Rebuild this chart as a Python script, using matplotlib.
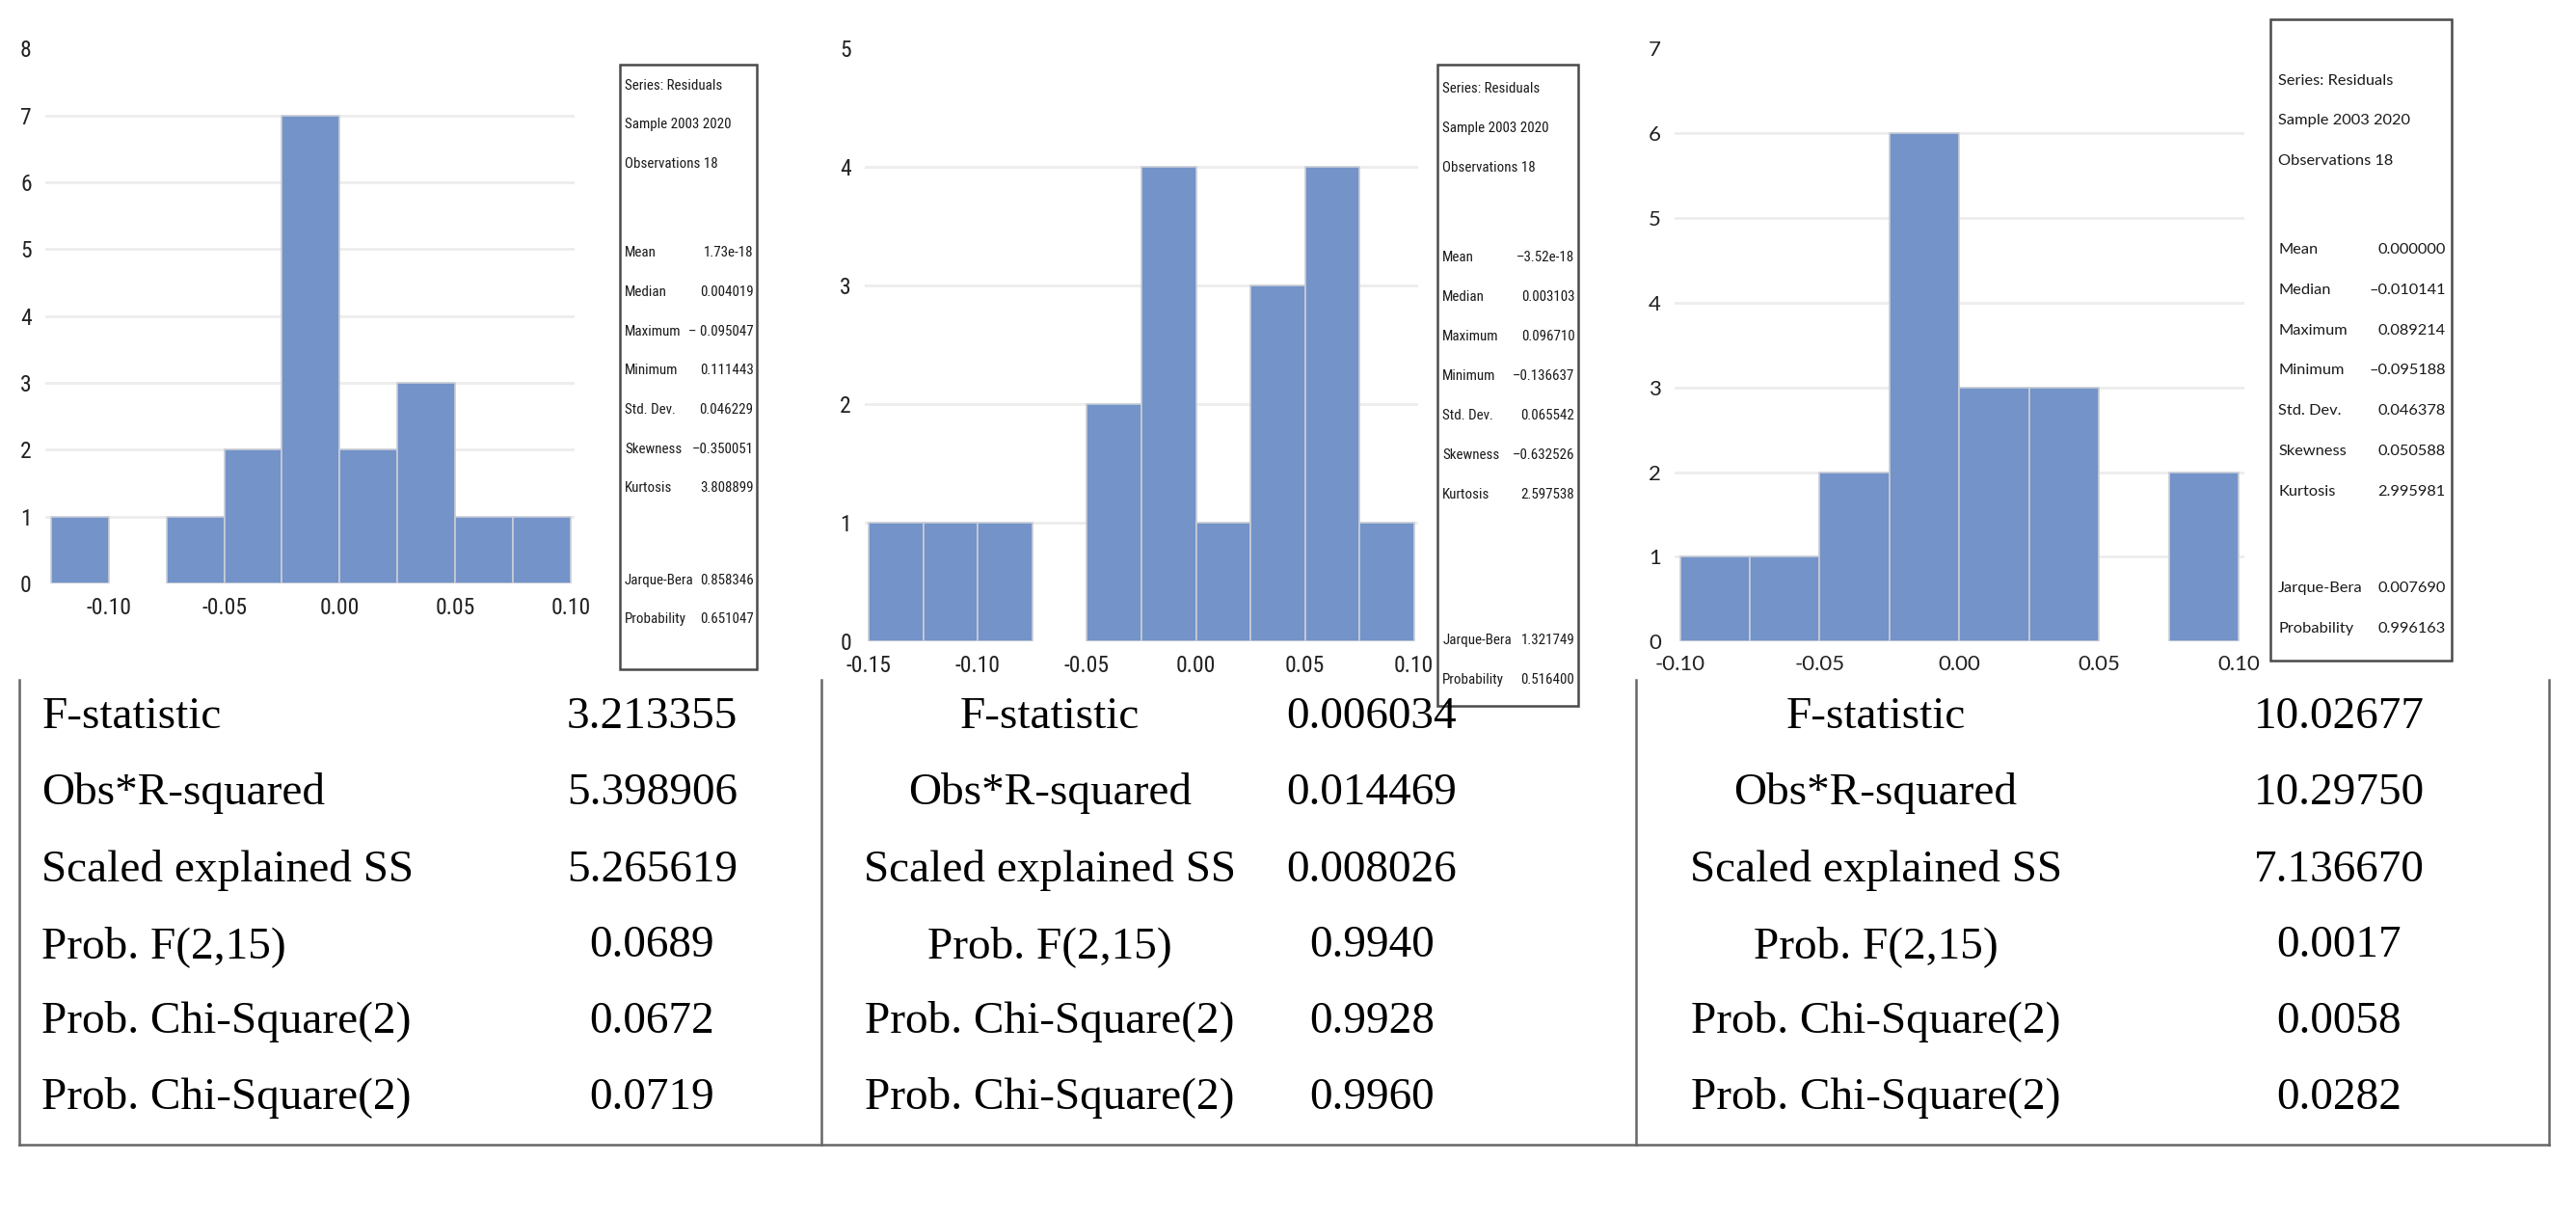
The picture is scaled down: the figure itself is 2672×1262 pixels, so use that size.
import os
import matplotlib
matplotlib.use("Agg")
import matplotlib.pyplot as plt
import numpy as np
from matplotlib.patches import Rectangle
from matplotlib.lines import Line2D
from matplotlib import font_manager
from matplotlib.font_manager import FontProperties

# ---------------- data ----------------
p1_edges = [-0.125, -0.10, -0.075, -0.05, -0.025, 0.0, 0.025, 0.05, 0.075, 0.10]
p1_counts = [1, 0, 1, 2, 7, 2, 3, 1, 1]
p1_xticks = [-0.10, -0.05, 0.00, 0.05, 0.10]

p2_edges = [-0.15, -0.125, -0.10, -0.075, -0.05, -0.025, 0.0, 0.025, 0.05, 0.075, 0.10]
p2_counts = [1, 1, 1, 0, 2, 4, 1, 3, 4, 1]
p2_xticks = [-0.15, -0.10, -0.05, 0.00, 0.05, 0.10]

p3_edges = [-0.10, -0.075, -0.05, -0.025, 0.0, 0.025, 0.05, 0.075, 0.10]
p3_counts = [1, 1, 2, 6, 3, 3, 0, 2]
p3_xticks = [-0.10, -0.05, 0.00, 0.05, 0.10]

box_header = ["Series: Residuals", "Sample 2003 2020", "Observations 18"]
stat_labels = ["Mean", "Median", "Maximum", "Minimum", "Std. Dev.", "Skewness", "Kurtosis"]
test_labels = ["Jarque-Bera", "Probability"]
box1_stats = ["1.73e-18", "0.004019", "\u2013 0.095047", "0.111443", "0.046229", "\u20130.350051", "3.808899"]
box1_tests = ["0.858346", "0.651047"]
box2_stats = ["\u20133.52e-18", "0.003103", "0.096710", "\u20130.136637", "0.065542", "\u20130.632526", "2.597538"]
box2_tests = ["1.321749", "0.516400"]
box3_stats = ["0.000000", "\u20130.010141", "0.089214", "\u20130.095188", "0.046378", "0.050588", "2.995981"]
box3_tests = ["0.007690", "0.996163"]

table_labels = ["F-statistic", "Obs*R-squared", "Scaled explained SS",
                "Prob. F(2,15)", "Prob. Chi-Square(2)", "Prob. Chi-Square(2)"]
table_vals1 = ["3.213355", "5.398906", "5.265619", "0.0689", "0.0672", "0.0719"]
table_vals2 = ["0.006034", "0.014469", "0.008026", "0.9940", "0.9928", "0.9960"]
table_vals3 = ["10.02677", "10.29750", "7.136670", "0.0017", "0.0058", "0.0282"]

# ---------------- fonts ----------------
plt.rcParams["axes.unicode_minus"] = False
narrow_path = None
for pat in ["liberationsansnarrow-regular", "robotocondensed-regular", "notosans-condensed.",
            "opensans-condensed", "dejavusanscondensed.ttf"]:
    for f in font_manager.fontManager.ttflist:
        if pat in os.path.basename(f.fname).lower():
            narrow_path = f.fname
            break
    if narrow_path:
        break
if narrow_path:
    NARROW_FP = FontProperties(fname=narrow_path)
    BOX_FS = 10.8
    TICK_FS = 17
else:
    NARROW_FP = FontProperties(family="Liberation Sans")
    BOX_FS = 9.2
    TICK_FS = 14.5
installed = {f.name for f in font_manager.fontManager.ttflist}
CAL = "Lato" if "Lato" in installed else "DejaVu Sans"
CAL_FP = FontProperties(family=CAL)
SERIF = "Liberation Serif"

BAR = "#7393C9"
BAR_EDGE = "#C9CDD6"
GRID = "#EDEDED"
FRAME = "#4A4A4A"

W, H = 2672, 1262
SX, SY = 1600.0, 755.0   # layout units (proportional to the figure)

fig = plt.figure(figsize=(W / 100, H / 100), dpi=100)
fig.patch.set_facecolor("white")


def fx(x):
    return x / SX


def fy(y):
    return 1 - y / SY


def hist_panel(left, right, top, bottom, xlim, ymax, edges, counts, xticks, fp, fsize):
    ax = fig.add_axes([fx(left), fy(bottom), (right - left) / SX, (bottom - top) / SY])
    e = np.array(edges)
    c = np.array(counts)
    lefts = e[:-1]
    widths = np.diff(e)
    m = c > 0
    ax.bar(lefts[m], c[m], width=widths[m], align="edge", color=BAR,
           edgecolor=BAR_EDGE, linewidth=1.2, zorder=3)
    for k in range(1, ymax):
        ax.axhline(k, color=GRID, lw=2.0, zorder=1)
    ax.set_xlim(*xlim)
    ax.set_ylim(0, ymax)
    ax.set_xticks(xticks)
    ax.set_xticklabels(["%.2f" % t for t in xticks], fontproperties=fp, fontsize=fsize, color="#222222")
    ax.set_yticks(range(0, ymax + 1))
    ax.set_yticklabels([str(k) for k in range(0, ymax + 1)], fontproperties=fp, fontsize=fsize,
                       color="#222222")
    ax.tick_params(length=0, pad=10)
    for s in ax.spines.values():
        s.set_visible(False)
    ax.set_facecolor("none")
    return ax


hist_panel(28, 357, 30, 362, (-0.1275, 0.1017), 8, p1_edges, p1_counts, p1_xticks, NARROW_FP, TICK_FS)
hist_panel(537, 881, 30, 398, (-0.152, 0.102), 5, p2_edges, p2_counts, p2_xticks, NARROW_FP, TICK_FS)
hist_panel(1040, 1394, 30, 398, (-0.102, 0.102), 7, p3_edges, p3_counts, p3_xticks, CAL_FP, 16)


def stats_box(x0, x1, y0, y1, lab_x, val_x, head_y, mean_y, step, jb_y, stats, tests, fp, fsize):
    fig.add_artist(Rectangle((fx(x0), fy(y1)), (x1 - x0) / SX, (y1 - y0) / SY,
                             transform=fig.transFigure, fill=False, ec=FRAME, lw=1.8))
    kw = dict(fontproperties=fp, fontsize=fsize, color="#1a1a1a", va="center",
              transform=fig.transFigure)
    for i, t in enumerate(box_header):
        fig.text(fx(lab_x), fy(head_y + i * step), t, ha="left", **kw)
    for i, (l, v) in enumerate(zip(stat_labels, stats)):
        yy = mean_y + i * step
        fig.text(fx(lab_x), fy(yy), l, ha="left", **kw)
        fig.text(fx(val_x), fy(yy), v, ha="right", **kw)
    for i, (l, v) in enumerate(zip(test_labels, tests)):
        yy = jb_y + i * step
        fig.text(fx(lab_x), fy(yy), l, ha="left", **kw)
        fig.text(fx(val_x), fy(yy), v, ha="right", **kw)


stats_box(385, 470, 40, 415, 388, 468, 53, 157, 24.3, 360, box1_stats, box1_tests, NARROW_FP, BOX_FS)
stats_box(893, 980, 40, 438, 896, 978, 55, 160, 24.5, 397, box2_stats, box2_tests, NARROW_FP, BOX_FS)
stats_box(1410, 1523, 12, 410, 1415, 1519, 50, 155, 25.0, 365, box3_stats, box3_tests, CAL_FP, 11.8)

# ---------------- table ----------------
t_top, t_bot = 422, 710
t_left, t_right = 12, 1583
for xv in [t_left, 510, 1016, t_right]:
    fig.add_artist(Line2D([fx(xv), fx(xv)], [fy(t_top), fy(t_bot)], transform=fig.transFigure,
                          color="#666666", lw=1.8))
fig.add_artist(Line2D([fx(t_left), fx(t_right)], [fy(t_bot), fy(t_bot)], transform=fig.transFigure,
                      color="#666666", lw=1.8))

row_y = [445, 492, 540, 587, 634, 681]
tkw = dict(family=SERIF, fontsize=34, color="black", va="center", transform=fig.transFigure)
for i, y in enumerate(row_y):
    fig.text(fx(26), fy(y), table_labels[i], ha="left", **tkw)
    fig.text(fx(405), fy(y), table_vals1[i], ha="center", **tkw)
    fig.text(fx(652), fy(y), table_labels[i], ha="center", **tkw)
    fig.text(fx(852), fy(y), table_vals2[i], ha="center", **tkw)
    fig.text(fx(1165), fy(y), table_labels[i], ha="center", **tkw)
    fig.text(fx(1453), fy(y), table_vals3[i], ha="center", **tkw)

fig.savefig("out.png", dpi=100, facecolor="white")
